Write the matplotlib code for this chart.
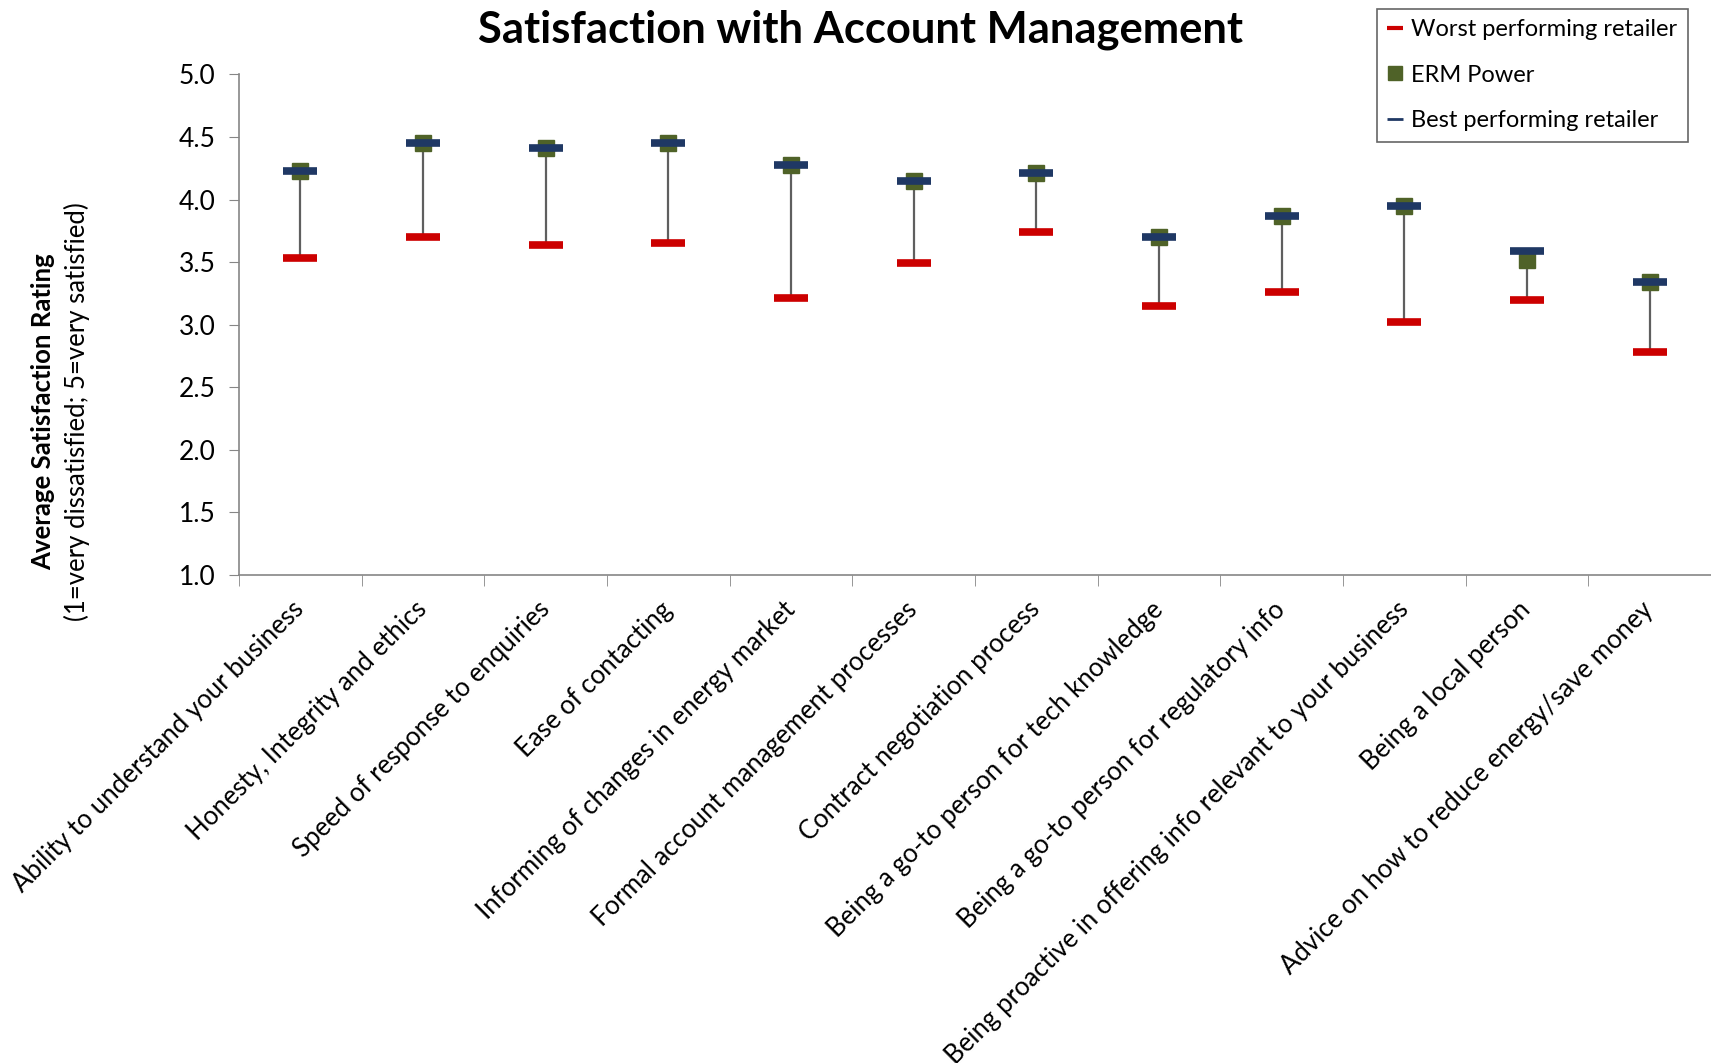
import numpy as np
import matplotlib.pyplot as plt
from matplotlib.lines import Line2D

plt.rcParams['font.family'] = ['Lato', 'DejaVu Sans']

# Survey categories and average satisfaction ratings
categories = [
    'Ability to understand your business',
    'Honesty, Integrity and ethics',
    'Speed of response to enquiries',
    'Ease of contacting',
    'Informing of changes in energy market',
    'Formal account management processes',
    'Contract negotiation process',
    'Being a go-to person for tech knowledge',
    'Being a go-to person for regulatory info',
    'Being proactive in offering info relevant to your business',
    'Being a local person',
    'Advice on how to reduce energy/save money',
]
worst = [3.53, 3.70, 3.64, 3.65, 3.21, 3.49, 3.74, 3.15, 3.26, 3.02, 3.20, 2.78]
erm = [4.23, 4.45, 4.41, 4.45, 4.28, 4.15, 4.21, 3.70, 3.87, 3.95, 3.52, 3.34]
best = [4.23, 4.45, 4.41, 4.45, 4.28, 4.15, 4.21, 3.70, 3.87, 3.95, 3.59, 3.34]

red = '#cc0000'
green = '#4f6228'
blue = '#1f3864'
axis_grey = '#868686'

x = np.arange(len(categories))

fig = plt.figure(figsize=(17.11, 10.63), dpi=100)
ax = fig.add_axes([0.1397, 0.459, 0.8603, 0.471])

# high-low line from the worst retailer up to the best
ax.vlines(x, worst, np.maximum(best, erm), color='#5f5f5f', lw=1.6, zorder=2)
ax.plot(x, worst, ls='none', marker='_', ms=24, mew=5.5, color=red, zorder=3)
ax.plot(x, erm, ls='none', marker='s', ms=12, color=green, zorder=4)
ax.plot(x, best, ls='none', marker='_', ms=24, mew=5.5, color=blue, zorder=5)

yticks = np.arange(1.0, 5.01, 0.5)
ax.set_ylim(1.0, 5.0)
ax.set_yticks(yticks)
ax.set_yticklabels([f'{v:.1f}' for v in yticks], fontsize=19)
ax.set_xlim(-0.5, len(categories) - 0.5)
ax.set_xticks(x)
ax.set_xticklabels(categories, rotation=45, ha='right', va='center',
                   rotation_mode='anchor', fontsize=18.5)
ax.set_xticks(np.arange(-0.5, len(categories), 1.0), minor=True)
ax.tick_params(axis='x', which='major', length=0, pad=22)
ax.tick_params(axis='x', which='minor', length=8, color=axis_grey, direction='out')
ax.tick_params(axis='y', length=7, color=axis_grey, pad=10)

for side in ['top', 'right']:
    ax.spines[side].set_visible(False)
for side in ['left', 'bottom']:
    ax.spines[side].set_color(axis_grey)
    ax.spines[side].set_linewidth(1.2)

fig.text(0.503, 0.972, 'Satisfaction with Account Management', ha='center', va='center',
         fontsize=31.3, fontweight='bold')
fig.text(0.0255, 0.613, 'Average Satisfaction Rating', rotation=90, ha='center',
         va='center', fontsize=18.5, fontweight='bold')
fig.text(0.045, 0.613, '(1=very dissatisfied; 5=very satisfied)', rotation=90,
         ha='center', va='center', fontsize=18.5)

handles = [
    Line2D([], [], ls='none', marker='_', ms=12, mew=3, color=red),
    Line2D([], [], ls='none', marker='s', ms=10, color=green),
    Line2D([], [], ls='none', marker='_', ms=12, mew=2, color=blue),
]
labels = ['Worst performing retailer', 'ERM Power', 'Best performing retailer']
leg = fig.legend(handles, labels, loc='upper right', bbox_to_anchor=(0.9866, 0.992),
                 borderaxespad=0, fontsize=17, frameon=True, fancybox=False,
                 handlelength=0.6, handletextpad=0.4, labelspacing=1.04, borderpad=0.45)
leg.get_frame().set_edgecolor('#404040')
leg.get_frame().set_linewidth(1.2)

fig.savefig('out.png', dpi=100)
